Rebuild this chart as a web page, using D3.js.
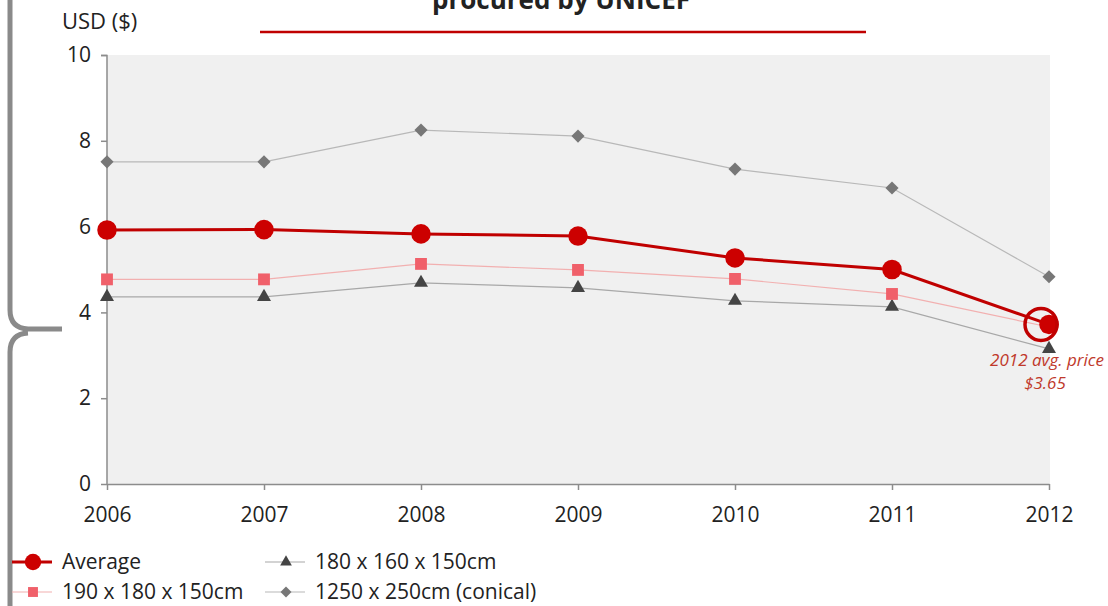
<!DOCTYPE html>
<html>
<head>
<meta charset="utf-8">
<script src="https://cdn.jsdelivr.net/npm/d3@7"></script>
<style>
  body { margin: 0; background: #fff; }
  svg { display: block; font-family: "Open Sans", "Liberation Sans", sans-serif; }
</style>
</head>
<body>
<div id="chart"></div>
<script>
// data
const years = [2006, 2007, 2008, 2009, 2010, 2011, 2012];
const average = [5.92, 5.93, 5.83, 5.78, 5.27, 5.00, 3.72];
const net190 = [4.77, 4.77, 5.13, 4.99, 4.78, 4.43, 3.66];
const net180 = [4.36, 4.36, 4.69, 4.57, 4.27, 4.13, 3.15];
const conical = [7.51, 7.51, 8.25, 8.11, 7.34, 6.90, 4.83];
const yTicks = [0, 2, 4, 6, 8, 10];

const W = 1108, H = 606;
const svg = d3.select("#chart").append("svg").attr("width", W).attr("height", H);

const x = d3.scalePoint().domain(years).range([107, 1049]);
const y = d3.scaleLinear().domain([0, 10]).range([484, 55]);

// title (clipped at top) and red rule
svg.append("text").attr("x", 561).attr("y", 9).attr("text-anchor", "middle")
  .attr("font-size", 26).attr("font-weight", "bold").attr("fill", "#222")
  .text("procured by UNICEF");
svg.append("line").attr("x1", 260).attr("x2", 866).attr("y1", 32).attr("y2", 32)
  .attr("stroke", "#c00000").attr("stroke-width", 2.5);

// plot background
svg.append("rect").attr("x", 107).attr("y", 55).attr("width", 1050 - 107).attr("height", 484 - 55)
  .attr("fill", "#f0f0f0");

svg.append("text").attr("x", 62).attr("y", 29).attr("font-size", 22).attr("fill", "#222")
  .text("USD ($)");

// axes
const yAxis = svg.append("g").attr("transform", "translate(107,0)")
  .call(d3.axisLeft(y).tickValues(yTicks).tickSize(6).tickPadding(10));
const xAxis = svg.append("g").attr("transform", "translate(0,484)")
  .call(d3.axisBottom(x).tickSize(6).tickPadding(17).tickSizeOuter(0));
[yAxis, xAxis].forEach(g => {
  g.selectAll("path, line").attr("stroke", "#8c8c8c").attr("stroke-width", 1.5);
  g.selectAll("text").attr("font-size", 21).attr("fill", "#222")
    .attr("font-family", "'Open Sans', sans-serif");
});
yAxis.select(".domain").attr("d", "M-6,55.5H0V484");

const series = [
  { name: "1250 x 250cm (conical)", values: conical, line: "#b8b8b8", lw: 1.2, color: "#777", sym: d3.symbolDiamond2, size: 110 },
  { name: "180 x 160 x 150cm", values: net180, line: "#a8a8a8", lw: 1.2, color: "#444", sym: d3.symbolTriangle, size: 85 },
  { name: "190 x 180 x 150cm", values: net190, line: "#f2b0b0", lw: 1.2, color: "#f0606a", sym: d3.symbolSquare, size: 140 },
  { name: "Average", values: average, line: "#c00000", lw: 3, color: "#cc0000", sym: d3.symbolCircle, size: 300 }
];

const line = d3.line().x((d, i) => x(years[i])).y(d => y(d));

series.forEach(s => {
  svg.append("path").datum(s.values).attr("d", line)
    .attr("fill", "none").attr("stroke", s.line).attr("stroke-width", s.lw);
  svg.selectAll(null).data(s.values).enter().append("path")
    .attr("transform", (d, i) => `translate(${x(years[i])},${y(d)})`)
    .attr("d", d3.symbol().type(s.sym).size(s.size))
    .attr("fill", s.color);
});

// highlight of 2012 average
svg.append("circle").attr("cx", x(2012) - 8).attr("cy", y(average[6]))
  .attr("r", 16).attr("fill", "none").attr("stroke", "#c00000").attr("stroke-width", 3.5);
svg.append("text").attr("x", 1047).attr("y", 366).attr("text-anchor", "middle")
  .attr("font-size", 17).attr("font-style", "italic").attr("fill", "#c0392b")
  .text("2012 avg. price");
svg.append("text").attr("x", 1045).attr("y", 389).attr("text-anchor", "middle")
  .attr("font-size", 17).attr("font-style", "italic").attr("fill", "#c0392b")
  .text("$3.65");

// left bracket
svg.append("path")
  .attr("d", "M10,0V310Q10,328 28,329H62M28,333Q10,334 10,352V606")
  .attr("fill", "none").attr("stroke", "#8a8a8a").attr("stroke-width", 5);

// legend
const legend = [
  { s: series[3], x: 12, y: 562, tx: 50 },
  { s: series[1], x: 265, y: 562, tx: 50 },
  { s: series[2], x: 12, y: 592, tx: 50 },
  { s: series[0], x: 265, y: 592, tx: 50 }
];
legend.forEach(l => {
  const g = svg.append("g").attr("transform", `translate(${l.x},${l.y})`);
  g.append("line").attr("x1", 0).attr("x2", 40).attr("stroke", l.s.line).attr("stroke-width", l.s.lw);
  g.append("path").attr("transform", "translate(21,0)")
    .attr("d", d3.symbol().type(l.s.sym).size(l.s.size * 0.7)).attr("fill", l.s.color);
  g.append("text").attr("x", l.tx).attr("dy", "0.35em").attr("font-size", 21).attr("fill", "#222")
    .text(l.s.name);
});
</script>
</body>
</html>
